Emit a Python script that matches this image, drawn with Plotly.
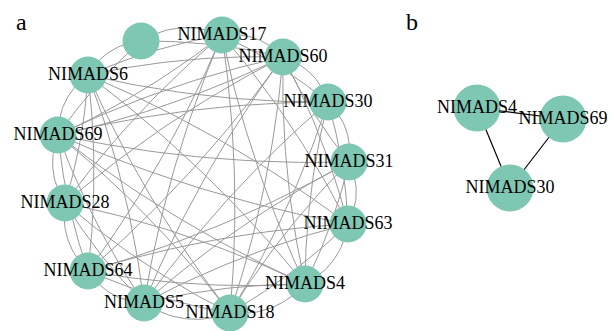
import numpy as np
import plotly.graph_objects as go

# ---- Panel a: node layout (positions) ----
nodes_a = ["", "NIMADS17", "NIMADS60", "NIMADS30", "NIMADS31", "NIMADS63",
           "NIMADS4", "NIMADS18", "NIMADS5", "NIMADS64", "NIMADS28",
           "NIMADS69", "NIMADS6"]
x_a = [141, 222, 283, 328, 349, 348, 305, 230, 144, 88, 65, 58, 88]
y_a = [41, 35, 57, 102, 162, 224, 284, 313, 303, 271, 203, 135, 75]

edges_a = [
    ("", "NIMADS17"), ("", "NIMADS60"), ("", "NIMADS6"),
    ("NIMADS17", "NIMADS60"), ("NIMADS17", "NIMADS6"), ("NIMADS17", "NIMADS69"),
    ("NIMADS17", "NIMADS28"), ("NIMADS17", "NIMADS64"), ("NIMADS17", "NIMADS5"),
    ("NIMADS17", "NIMADS18"), ("NIMADS17", "NIMADS4"), ("NIMADS17", "NIMADS63"),
    ("NIMADS60", "NIMADS6"), ("NIMADS60", "NIMADS69"), ("NIMADS60", "NIMADS28"),
    ("NIMADS60", "NIMADS64"), ("NIMADS60", "NIMADS5"), ("NIMADS60", "NIMADS18"),
    ("NIMADS60", "NIMADS4"), ("NIMADS60", "NIMADS63"), ("NIMADS60", "NIMADS31"),
    ("NIMADS60", "NIMADS30"),
    ("NIMADS30", "NIMADS69"), ("NIMADS30", "NIMADS6"), ("NIMADS30", "NIMADS31"),
    ("NIMADS30", "NIMADS63"), ("NIMADS30", "NIMADS4"), ("NIMADS30", "NIMADS18"),
    ("NIMADS30", "NIMADS5"),
    ("NIMADS31", "NIMADS64"), ("NIMADS31", "NIMADS63"), ("NIMADS31", "NIMADS4"),
    ("NIMADS31", "NIMADS5"), ("NIMADS31", "NIMADS69"), ("NIMADS31", "NIMADS18"),
    ("NIMADS63", "NIMADS69"), ("NIMADS63", "NIMADS64"), ("NIMADS63", "NIMADS4"),
    ("NIMADS63", "NIMADS5"), ("NIMADS63", "NIMADS18"), ("NIMADS63", "NIMADS6"),
    ("NIMADS4", "NIMADS69"), ("NIMADS4", "NIMADS6"), ("NIMADS4", "NIMADS64"),
    ("NIMADS4", "NIMADS5"), ("NIMADS4", "NIMADS18"), ("NIMADS4", "NIMADS28"),
    ("NIMADS18", "NIMADS6"), ("NIMADS18", "NIMADS69"), ("NIMADS18", "NIMADS64"),
    ("NIMADS18", "NIMADS5"), ("NIMADS18", "NIMADS28"),
    ("NIMADS5", "NIMADS6"), ("NIMADS5", "NIMADS69"), ("NIMADS5", "NIMADS64"),
    ("NIMADS5", "NIMADS28"),
    ("NIMADS64", "NIMADS6"), ("NIMADS64", "NIMADS69"), ("NIMADS64", "NIMADS28"),
    ("NIMADS28", "NIMADS69"), ("NIMADS28", "NIMADS6"),
    ("NIMADS69", "NIMADS6"), ("", "NIMADS69"), ("NIMADS17", "NIMADS30"),
    ("NIMADS60", "NIMADS69"),
]

# ---- Panel b ----
nodes_b = ["NIMADS4", "NIMADS69", "NIMADS30"]
x_b = [477, 563, 510]
y_b = [108, 119, 188]
edges_b = [("NIMADS4", "NIMADS69"), ("NIMADS4", "NIMADS30"), ("NIMADS69", "NIMADS30")]

NODE_COLOR = "#7dc7b3"
SERIF = "Liberation Serif, Times New Roman, serif"


def edge_path(names, xs, ys, edges, curv_short, curv_long):
    pos = {n: np.array((x, y), float) for n, x, y in zip(names, xs, ys)}
    center = np.array([np.mean(xs), np.mean(ys)])
    ex, ey = [], []
    t = np.linspace(0, 1, 30)
    seen = {}
    for i, (s, d) in enumerate(edges):
        p0, p2 = pos[s], pos[d]
        v = p2 - p0
        L = np.hypot(*v)
        mid = (p0 + p2) / 2
        perp = np.array([-v[1], v[0]])
        key = frozenset((s, d))
        k = seen.get(key, 0)
        seen[key] = k + 1
        if L < 110:
            if np.dot(perp, mid - center) < 0:
                perp = -perp
            c = curv_short * (1 + 0.8 * k)
        else:
            c = curv_long * (1 if i % 2 == 0 else -1)
        p1 = mid + c * perp
        pts = ((1 - t)[:, None] ** 2) * p0 + (2 * (1 - t) * t)[:, None] * p1 + (t ** 2)[:, None] * p2
        ex += list(pts[:, 0]) + [None]
        ey += list(pts[:, 1]) + [None]
    return ex, ey


fig = go.Figure()

exa, eya = edge_path(nodes_a, x_a, y_a, edges_a, 0.25, 0.06)
fig.add_trace(go.Scatter(x=exa, y=eya, mode="lines",
                         line=dict(color="#999999", width=1),
                         hoverinfo="skip", showlegend=False))
fig.add_trace(go.Scatter(x=x_a, y=y_a, mode="markers+text", text=nodes_a,
                         textposition="middle center",
                         textfont=dict(family=SERIF, size=18, color="black"),
                         marker=dict(size=37, color=NODE_COLOR, line=dict(width=0)),
                         cliponaxis=False, showlegend=False))

exb, eyb = edge_path(nodes_b, x_b, y_b, edges_b, 0.0, 0.0)
fig.add_trace(go.Scatter(x=exb, y=eyb, mode="lines",
                         line=dict(color="black", width=1.2),
                         hoverinfo="skip", showlegend=False))
fig.add_trace(go.Scatter(x=x_b, y=y_b, mode="markers+text", text=nodes_b,
                         textposition="middle center",
                         textfont=dict(family=SERIF, size=18, color="black"),
                         marker=dict(size=47, color=NODE_COLOR, line=dict(width=0)),
                         cliponaxis=False, showlegend=False))

fig.add_annotation(x=21, y=22, xref="x", yref="y", text="a", showarrow=False,
                   font=dict(family=SERIF, size=24, color="black"))
fig.add_annotation(x=412, y=22, xref="x", yref="y", text="b", showarrow=False,
                   font=dict(family=SERIF, size=24, color="black"))

fig.update_layout(
    width=614, height=331, margin=dict(l=0, r=0, t=0, b=0),
    paper_bgcolor="white", plot_bgcolor="white",
    xaxis=dict(range=[0, 614], visible=False, fixedrange=True),
    yaxis=dict(range=[331, 0], visible=False, fixedrange=True),
)

fig.write_html("out.html")
